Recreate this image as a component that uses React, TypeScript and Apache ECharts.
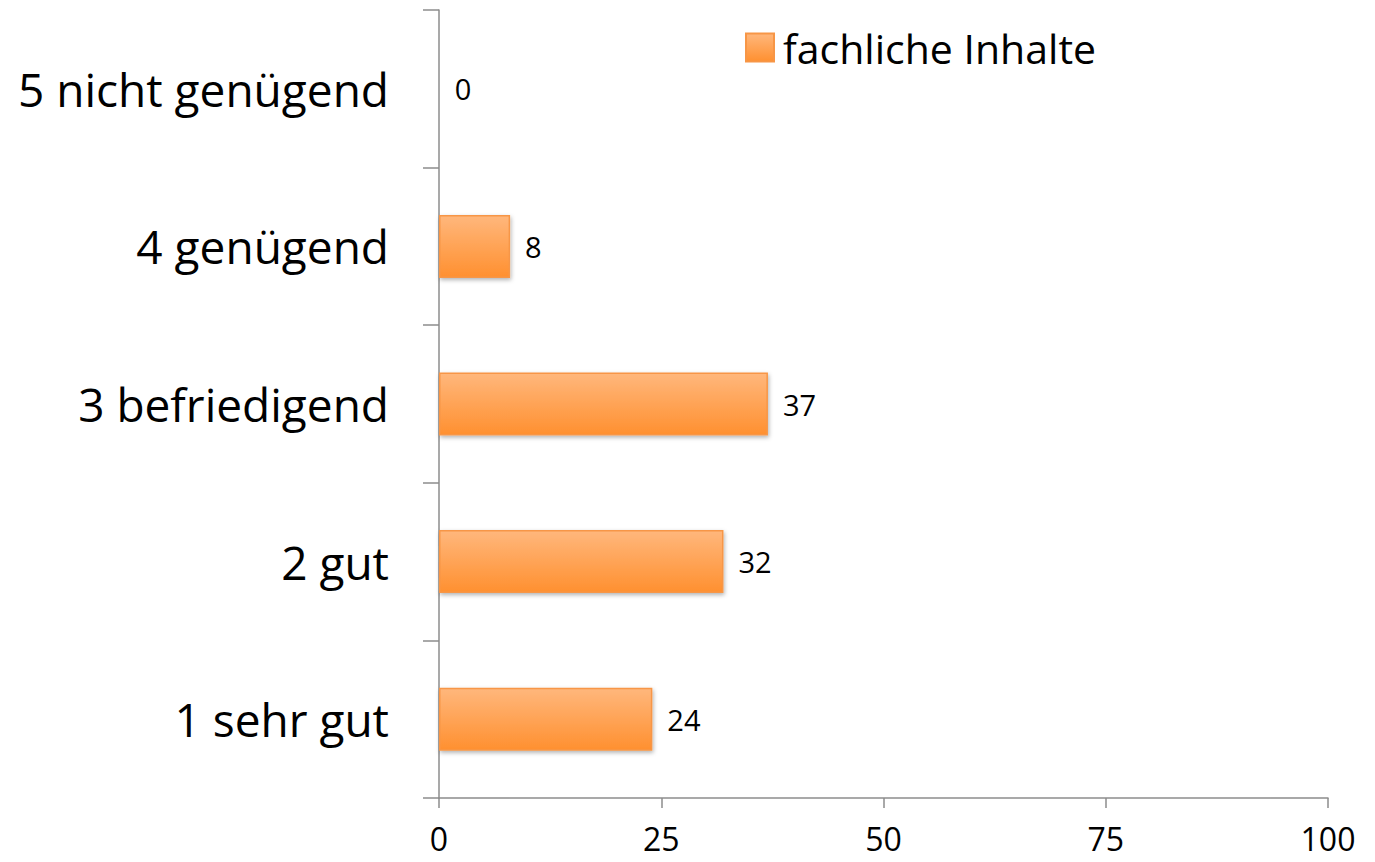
import React, { useEffect, useRef } from "react";
import * as echarts from "echarts";

const categories = ["1 sehr gut", "2 gut", "3 befriedigend", "4 genügend", "5 nicht genügend"];
const values = [24, 32, 37, 8, 0];
const seriesName = "fachliche Inhalte";
const xTicks = [0, 25, 50, 75, 100];

export default function App() {
  const ref = useRef<HTMLDivElement>(null);
  useEffect(() => {
    const chart = echarts.init(ref.current!, undefined, { renderer: "svg" });
    const font = "'Open Sans', 'Noto Sans', sans-serif";
    chart.setOption({
      animation: false,
      textStyle: { fontFamily: font },
      grid: { left: 439, right: 47, top: 10, bottom: 64, containLabel: false },
      legend: {
        data: [seriesName],
        left: 740,
        top: 22,
        itemWidth: 28,
        itemHeight: 28,
        itemGap: 10,
        textStyle: { fontSize: 41, color: "#000", fontFamily: font, padding: [0, 0, 0, 4] },
        icon: "rect",
      },
      xAxis: {
        type: "value",
        min: xTicks[0],
        max: xTicks[xTicks.length - 1],
        interval: 25,
        splitLine: { show: false },
        axisLine: { show: true, lineStyle: { color: "#8c8c8c", width: 1.5 } },
        axisTick: { show: true, length: 10, lineStyle: { color: "#8c8c8c", width: 1.5 } },
        axisLabel: { fontSize: 32, color: "#000", margin: 24, fontFamily: font },
      },
      yAxis: {
        type: "category",
        data: categories,
        axisLine: { show: true, lineStyle: { color: "#8c8c8c", width: 1.5 } },
        axisTick: { show: true, length: 16, lineStyle: { color: "#8c8c8c", width: 1.5 } },
        axisLabel: { fontSize: 46, color: "#000", margin: 50, fontFamily: font },
      },
      series: [
        {
          name: seriesName,
          type: "bar",
          data: values,
          barCategoryGap: "60%",
          itemStyle: {
            color: new echarts.graphic.LinearGradient(0, 0, 0, 1, [
              { offset: 0, color: "#ffb77c" },
              { offset: 1, color: "#ff9030" },
            ]),
            borderColor: "#f79646",
            borderWidth: 1.5,
            shadowColor: "rgba(0,0,0,0.3)",
            shadowBlur: 4,
            shadowOffsetX: 1,
            shadowOffsetY: 2,
          },
          label: {
            show: true,
            position: "right",
            distance: 15,
            fontSize: 29,
            color: "#000",
            fontFamily: font,
          },
        },
      ],
    });
    return () => chart.dispose();
  }, []);
  return <div ref={ref} style={{ width: 1375, height: 862, position: "absolute", left: 0, top: 0 }} />;
}
